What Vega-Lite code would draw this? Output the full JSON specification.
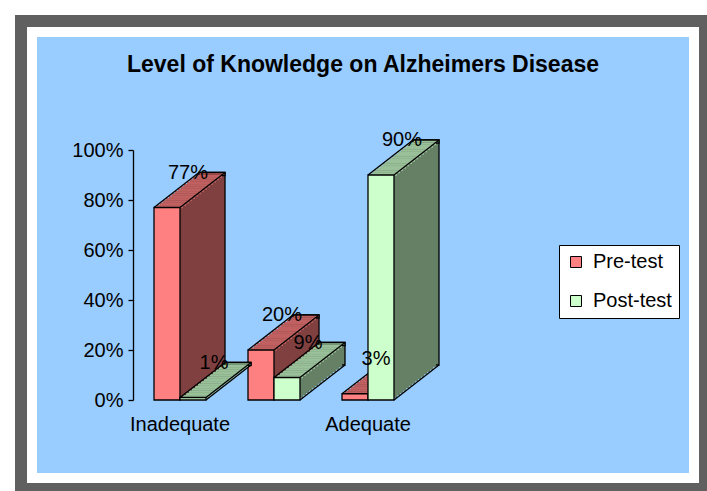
{
  "$schema": "https://vega.github.io/schema/vega-lite/v6.json",
  "width": 662,
  "height": 446,
  "autosize": {"type": "none"},
  "padding": {"left": 32, "top": 32, "right": 13, "bottom": 13},
  "background": "white",
  "config": {
    "view": {"fill": null, "stroke": "#606060", "strokeWidth": 34},
    "font": "Liberation Sans"
  },
  "title": {
    "text": "Level of Knowledge on Alzheimers Disease",
    "font": "Liberation Sans",
    "fontSize": 23,
    "fontWeight": "bold",
    "color": "black",
    "anchor": "middle",
    "offset": -50
  },
  "data": {
    "values": [
      {"level": "Inadequate", "series": "Pre-test", "value": 0.77},
      {"level": "Inadequate", "series": "Post-test", "value": 0.01},
      {"level": "Moderate", "series": "Pre-test", "value": 0.20},
      {"level": "Moderate", "series": "Post-test", "value": 0.09},
      {"level": "Adequate", "series": "Pre-test", "value": 0.025},
      {"level": "Adequate", "series": "Post-test", "value": 0.90}
    ]
  },
  "layer": [
    {
      "data": {"values": [{}]},
      "mark": {"type": "rect", "fill": "#99CCFF", "stroke": "white", "strokeWidth": 10},
      "encoding": {}
    },
    {
      "encoding": {
        "x": {
          "field": "level", "type": "nominal",
          "scale": {"domain": ["Inadequate", "Moderate", "Adequate"], "range": [101, 383], "paddingInner": 0.447, "paddingOuter": 0.2235},
          "axis": {"title": null, "domain": false, "ticks": false, "labelFontSize": 20, "labelFont": "Liberation Sans", "labelColor": "black", "labelPadding": 14, "offset": -78, "labelAngle": 0, "zindex": 1, "labelExpr": "datum.value === 'Moderate' ? '' : datum.label"}
        },
        "y": {
          "field": "value", "type": "quantitative",
          "scale": {"domain": [0, 1], "range": [368, 118], "nice": false},
          "axis": {"title": null, "values": [0, 0.2, 0.4, 0.6, 0.8, 1], "format": ".0%", "grid": false, "domainColor": "black", "domainWidth": 1.3, "tickColor": "black", "tickWidth": 1.3, "tickSize": 5, "labelFontSize": 20, "labelFont": "Liberation Sans", "labelColor": "black", "labelPadding": 5, "offset": -101, "zindex": 1, "labelFlush": false, "labelOverlap": false}
        }
      },
      "layer": [
        {
          "mark": {"type": "bar", "width": 1},
          "encoding": {
            "opacity": {
              "field": "series", "type": "nominal",
              "scale": {"domain": ["Post-test", "Pre-test"], "range": [0, 0]},
              "legend": {"orient": "none", "legendX": 533, "legendY": 219, "zindex": 1, "title": null, "symbolType": "square", "symbolSize": 121, "symbolFillColor": "black", "symbolStrokeColor": "black", "symbolStrokeWidth": 1, "labelFontSize": 20, "labelFont": "Liberation Sans", "labelColor": "black", "rowPadding": 19, "padding": 7, "fillColor": "black", "strokeColor": "black", "labelOffset": 7, "labelExpr": "'              '"}
            }
          }
        },
        {
          "transform": [{"filter": "datum.series === 'Pre-test'"}],
          "layer": [
            {"mark": {"type": "bar", "width": 26, "xOffset": 32, "yOffset": -35, "y2Offset": -35, "fill": "#804040", "stroke": "black", "strokeWidth": 1.3}},
            {"mark": {"type": "bar", "width": 26, "xOffset": 32, "yOffset": -35, "y2Offset": -32, "fill": "#C06060", "stroke": "black", "strokeWidth": 1.3}, "encoding": {"y2": {"field": "value"}}},
            {"mark": {"type": "bar", "width": 26, "xOffset": 29, "yOffset": -32.667, "y2Offset": -32.667, "fill": "#804040"}},
            {"mark": {"type": "bar", "width": 26, "xOffset": 29, "yOffset": -32.667, "y2Offset": -29.667, "fill": "#C06060"}, "encoding": {"y2": {"field": "value"}}},
            {"mark": {"type": "bar", "width": 26, "xOffset": 26, "yOffset": -30.333, "y2Offset": -30.333, "fill": "#804040"}},
            {"mark": {"type": "bar", "width": 26, "xOffset": 26, "yOffset": -30.333, "y2Offset": -27.333, "fill": "#C06060"}, "encoding": {"y2": {"field": "value"}}},
            {"mark": {"type": "bar", "width": 26, "xOffset": 23, "yOffset": -28, "y2Offset": -28, "fill": "#804040"}},
            {"mark": {"type": "bar", "width": 26, "xOffset": 23, "yOffset": -28, "y2Offset": -25, "fill": "#C06060"}, "encoding": {"y2": {"field": "value"}}},
            {"mark": {"type": "bar", "width": 26, "xOffset": 20, "yOffset": -25.667, "y2Offset": -25.667, "fill": "#804040"}},
            {"mark": {"type": "bar", "width": 26, "xOffset": 20, "yOffset": -25.667, "y2Offset": -22.667, "fill": "#C06060"}, "encoding": {"y2": {"field": "value"}}},
            {"mark": {"type": "bar", "width": 26, "xOffset": 17, "yOffset": -23.333, "y2Offset": -23.333, "fill": "#804040"}},
            {"mark": {"type": "bar", "width": 26, "xOffset": 17, "yOffset": -23.333, "y2Offset": -20.333, "fill": "#C06060"}, "encoding": {"y2": {"field": "value"}}},
            {"mark": {"type": "bar", "width": 26, "xOffset": 14, "yOffset": -21, "y2Offset": -21, "fill": "#804040"}},
            {"mark": {"type": "bar", "width": 26, "xOffset": 14, "yOffset": -21, "y2Offset": -18, "fill": "#C06060"}, "encoding": {"y2": {"field": "value"}}},
            {"mark": {"type": "bar", "width": 26, "xOffset": 11, "yOffset": -18.667, "y2Offset": -18.667, "fill": "#804040"}},
            {"mark": {"type": "bar", "width": 26, "xOffset": 11, "yOffset": -18.667, "y2Offset": -15.667, "fill": "#C06060"}, "encoding": {"y2": {"field": "value"}}},
            {"mark": {"type": "bar", "width": 26, "xOffset": 8, "yOffset": -16.333, "y2Offset": -16.333, "fill": "#804040"}},
            {"mark": {"type": "bar", "width": 26, "xOffset": 8, "yOffset": -16.333, "y2Offset": -13.333, "fill": "#C06060"}, "encoding": {"y2": {"field": "value"}}},
            {"mark": {"type": "bar", "width": 26, "xOffset": 5, "yOffset": -14, "y2Offset": -14, "fill": "#804040"}},
            {"mark": {"type": "bar", "width": 26, "xOffset": 5, "yOffset": -14, "y2Offset": -11, "fill": "#C06060"}, "encoding": {"y2": {"field": "value"}}},
            {"mark": {"type": "bar", "width": 26, "xOffset": 2, "yOffset": -11.667, "y2Offset": -11.667, "fill": "#804040"}},
            {"mark": {"type": "bar", "width": 26, "xOffset": 2, "yOffset": -11.667, "y2Offset": -8.667, "fill": "#C06060"}, "encoding": {"y2": {"field": "value"}}},
            {"mark": {"type": "bar", "width": 26, "xOffset": -1, "yOffset": -9.333, "y2Offset": -9.333, "fill": "#804040"}},
            {"mark": {"type": "bar", "width": 26, "xOffset": -1, "yOffset": -9.333, "y2Offset": -6.333, "fill": "#C06060"}, "encoding": {"y2": {"field": "value"}}},
            {"mark": {"type": "bar", "width": 26, "xOffset": -4, "yOffset": -7, "y2Offset": -7, "fill": "#804040"}},
            {"mark": {"type": "bar", "width": 26, "xOffset": -4, "yOffset": -7, "y2Offset": -4, "fill": "#C06060"}, "encoding": {"y2": {"field": "value"}}},
            {"mark": {"type": "bar", "width": 26, "xOffset": -7, "yOffset": -4.667, "y2Offset": -4.667, "fill": "#804040"}},
            {"mark": {"type": "bar", "width": 26, "xOffset": -7, "yOffset": -4.667, "y2Offset": -1.667, "fill": "#C06060"}, "encoding": {"y2": {"field": "value"}}},
            {"mark": {"type": "bar", "width": 26, "xOffset": -10, "yOffset": -2.333, "y2Offset": -2.333, "fill": "#804040"}},
            {"mark": {"type": "bar", "width": 26, "xOffset": -10, "yOffset": -2.333, "y2Offset": 0.667, "fill": "#C06060"}, "encoding": {"y2": {"field": "value"}}},
            {
              "mark": {"type": "bar", "width": 26, "xOffset": -13, "stroke": "black", "strokeWidth": 1.3},
              "encoding": {
                "fill": {
                  "field": "series", "type": "nominal",
                  "scale": {"domain": ["Pre-test", "Post-test"], "range": ["#FF8080", "#CCFFCC"]},
                  "legend": {"orient": "none", "legendX": 527, "legendY": 213, "zindex": 2, "title": null, "symbolType": "square", "symbolSize": 121, "symbolStrokeColor": "black", "symbolStrokeWidth": 1, "labelFontSize": 20, "labelFont": "Liberation Sans", "labelColor": "black", "rowPadding": 19, "padding": 7, "fillColor": "white", "strokeColor": "black", "labelOffset": 7}
                }
              }
            },
            {"mark": {"type": "rule", "color": "black", "strokeWidth": 1.3, "xOffset": -26, "x2Offset": 19, "y2Offset": -35}, "encoding": {"x2": {"field": "level"}, "y2": {"field": "value"}}},
            {"mark": {"type": "rule", "color": "black", "strokeWidth": 1.3, "xOffset": 0, "x2Offset": 45, "y2Offset": -35}, "encoding": {"x2": {"field": "level"}, "y2": {"field": "value"}}},
            {"mark": {"type": "rule", "color": "black", "strokeWidth": 1.3, "xOffset": 0, "x2Offset": 45, "y2Offset": -35}, "encoding": {"x2": {"field": "level"}, "y": {"datum": 0}, "y2": {"datum": 0}}}
          ]
        },
        {
          "transform": [{"filter": "datum.series === 'Post-test'"}],
          "layer": [
            {"mark": {"type": "bar", "width": 26, "xOffset": 58, "yOffset": -35, "y2Offset": -35, "fill": "#668066", "stroke": "black", "strokeWidth": 1.3}},
            {"mark": {"type": "bar", "width": 26, "xOffset": 58, "yOffset": -35, "y2Offset": -32, "fill": "#99C099", "stroke": "black", "strokeWidth": 1.3}, "encoding": {"y2": {"field": "value"}}},
            {"mark": {"type": "bar", "width": 26, "xOffset": 55, "yOffset": -32.667, "y2Offset": -32.667, "fill": "#668066"}},
            {"mark": {"type": "bar", "width": 26, "xOffset": 55, "yOffset": -32.667, "y2Offset": -29.667, "fill": "#99C099"}, "encoding": {"y2": {"field": "value"}}},
            {"mark": {"type": "bar", "width": 26, "xOffset": 52, "yOffset": -30.333, "y2Offset": -30.333, "fill": "#668066"}},
            {"mark": {"type": "bar", "width": 26, "xOffset": 52, "yOffset": -30.333, "y2Offset": -27.333, "fill": "#99C099"}, "encoding": {"y2": {"field": "value"}}},
            {"mark": {"type": "bar", "width": 26, "xOffset": 49, "yOffset": -28, "y2Offset": -28, "fill": "#668066"}},
            {"mark": {"type": "bar", "width": 26, "xOffset": 49, "yOffset": -28, "y2Offset": -25, "fill": "#99C099"}, "encoding": {"y2": {"field": "value"}}},
            {"mark": {"type": "bar", "width": 26, "xOffset": 46, "yOffset": -25.667, "y2Offset": -25.667, "fill": "#668066"}},
            {"mark": {"type": "bar", "width": 26, "xOffset": 46, "yOffset": -25.667, "y2Offset": -22.667, "fill": "#99C099"}, "encoding": {"y2": {"field": "value"}}},
            {"mark": {"type": "bar", "width": 26, "xOffset": 43, "yOffset": -23.333, "y2Offset": -23.333, "fill": "#668066"}},
            {"mark": {"type": "bar", "width": 26, "xOffset": 43, "yOffset": -23.333, "y2Offset": -20.333, "fill": "#99C099"}, "encoding": {"y2": {"field": "value"}}},
            {"mark": {"type": "bar", "width": 26, "xOffset": 40, "yOffset": -21, "y2Offset": -21, "fill": "#668066"}},
            {"mark": {"type": "bar", "width": 26, "xOffset": 40, "yOffset": -21, "y2Offset": -18, "fill": "#99C099"}, "encoding": {"y2": {"field": "value"}}},
            {"mark": {"type": "bar", "width": 26, "xOffset": 37, "yOffset": -18.667, "y2Offset": -18.667, "fill": "#668066"}},
            {"mark": {"type": "bar", "width": 26, "xOffset": 37, "yOffset": -18.667, "y2Offset": -15.667, "fill": "#99C099"}, "encoding": {"y2": {"field": "value"}}},
            {"mark": {"type": "bar", "width": 26, "xOffset": 34, "yOffset": -16.333, "y2Offset": -16.333, "fill": "#668066"}},
            {"mark": {"type": "bar", "width": 26, "xOffset": 34, "yOffset": -16.333, "y2Offset": -13.333, "fill": "#99C099"}, "encoding": {"y2": {"field": "value"}}},
            {"mark": {"type": "bar", "width": 26, "xOffset": 31, "yOffset": -14, "y2Offset": -14, "fill": "#668066"}},
            {"mark": {"type": "bar", "width": 26, "xOffset": 31, "yOffset": -14, "y2Offset": -11, "fill": "#99C099"}, "encoding": {"y2": {"field": "value"}}},
            {"mark": {"type": "bar", "width": 26, "xOffset": 28, "yOffset": -11.667, "y2Offset": -11.667, "fill": "#668066"}},
            {"mark": {"type": "bar", "width": 26, "xOffset": 28, "yOffset": -11.667, "y2Offset": -8.667, "fill": "#99C099"}, "encoding": {"y2": {"field": "value"}}},
            {"mark": {"type": "bar", "width": 26, "xOffset": 25, "yOffset": -9.333, "y2Offset": -9.333, "fill": "#668066"}},
            {"mark": {"type": "bar", "width": 26, "xOffset": 25, "yOffset": -9.333, "y2Offset": -6.333, "fill": "#99C099"}, "encoding": {"y2": {"field": "value"}}},
            {"mark": {"type": "bar", "width": 26, "xOffset": 22, "yOffset": -7, "y2Offset": -7, "fill": "#668066"}},
            {"mark": {"type": "bar", "width": 26, "xOffset": 22, "yOffset": -7, "y2Offset": -4, "fill": "#99C099"}, "encoding": {"y2": {"field": "value"}}},
            {"mark": {"type": "bar", "width": 26, "xOffset": 19, "yOffset": -4.667, "y2Offset": -4.667, "fill": "#668066"}},
            {"mark": {"type": "bar", "width": 26, "xOffset": 19, "yOffset": -4.667, "y2Offset": -1.667, "fill": "#99C099"}, "encoding": {"y2": {"field": "value"}}},
            {"mark": {"type": "bar", "width": 26, "xOffset": 16, "yOffset": -2.333, "y2Offset": -2.333, "fill": "#668066"}},
            {"mark": {"type": "bar", "width": 26, "xOffset": 16, "yOffset": -2.333, "y2Offset": 0.667, "fill": "#99C099"}, "encoding": {"y2": {"field": "value"}}},
            {
              "mark": {"type": "bar", "width": 26, "xOffset": 13, "stroke": "black", "strokeWidth": 1.3},
              "encoding": {
                "fill": {
                  "field": "series", "type": "nominal",
                  "scale": {"domain": ["Pre-test", "Post-test"], "range": ["#FF8080", "#CCFFCC"]},
                  "legend": {"orient": "none", "legendX": 527, "legendY": 213, "zindex": 2, "title": null, "symbolType": "square", "symbolSize": 121, "symbolStrokeColor": "black", "symbolStrokeWidth": 1, "labelFontSize": 20, "labelFont": "Liberation Sans", "labelColor": "black", "rowPadding": 19, "padding": 7, "fillColor": "white", "strokeColor": "black", "labelOffset": 7}
                }
              }
            },
            {"mark": {"type": "rule", "color": "black", "strokeWidth": 1.3, "xOffset": 0, "x2Offset": 45, "y2Offset": -35}, "encoding": {"x2": {"field": "level"}, "y2": {"field": "value"}}},
            {"mark": {"type": "rule", "color": "black", "strokeWidth": 1.3, "xOffset": 26, "x2Offset": 71, "y2Offset": -35}, "encoding": {"x2": {"field": "level"}, "y2": {"field": "value"}}},
            {"mark": {"type": "rule", "color": "black", "strokeWidth": 1.3, "xOffset": 26, "x2Offset": 71, "y2Offset": -35}, "encoding": {"x2": {"field": "level"}, "y": {"datum": 0}, "y2": {"datum": 0}}}
          ]
        },
        {
          "transform": [{"filter": "datum.series === 'Pre-test'"}],
          "mark": {"type": "text", "xOffset": 8, "yOffset": -35, "align": "center", "baseline": "middle", "fontSize": 20, "font": "Liberation Sans", "color": "black"},
          "encoding": {"text": {"field": "value", "type": "quantitative", "format": ".0%"}}
        },
        {
          "transform": [{"filter": "datum.series === 'Post-test'"}],
          "mark": {"type": "text", "xOffset": 34, "yOffset": -35, "align": "center", "baseline": "middle", "fontSize": 20, "font": "Liberation Sans", "color": "black"},
          "encoding": {"text": {"field": "value", "type": "quantitative", "format": ".0%"}}
        }
      ]
    }
  ]
}
